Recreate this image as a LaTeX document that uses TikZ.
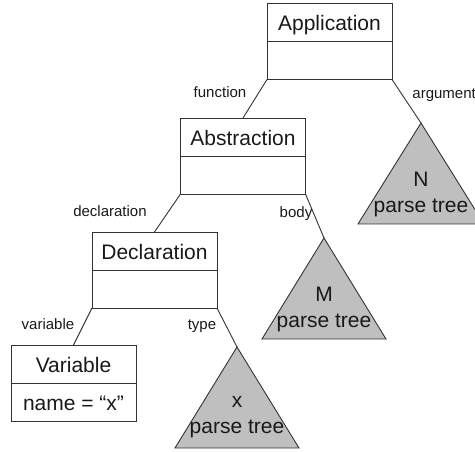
\documentclass[tikz,border=0pt]{standalone}
\usepackage{fontspec}
\setmainfont{Liberation Sans}
\usetikzlibrary{positioning}

\begin{document}
\begin{tikzpicture}[
                x=1pt, y=-1pt,
                line width=0.9pt,
                every node/.style={font=\fontsize{21}{26}\selectfont, text=black!90},
                classbox/.style={draw=black!80, minimum width=125pt, minimum height=38pt, inner sep=0pt, outer sep=0pt, text height=17pt, text depth=0pt},
                parsetree/.style={draw=black!80, fill=black!25},
                treetext/.style={align=center},
                role/.style={font=\fontsize{15}{18}\selectfont}
            ]
            \useasboundingbox (0,0) rectangle (475,452);

            % class boxes
            \node[classbox] (app) at (329.5,22.5) {Application};
            \node[classbox, below=0pt of app] (appb) {};
            \node[classbox] (abs) at (243,137) {Abstraction};
            \node[classbox, below=0pt of abs] (absb) {};
            \node[classbox] (decl) at (154.5,251) {Declaration};
            \node[classbox, below=0pt of decl] (declb) {};
            \node[classbox] (var) at (73.5,364) {Variable};
            \node[classbox, below=0pt of var] (varb) {name = “x”};

            % parse trees
            \coordinate (ntop) at (421,123);
            \draw[parsetree] (ntop) -- ++(-63,101) -- ++(126,0) -- cycle;
            \node[treetext] (ntext) at (421,194) {N\\parse tree};
            \coordinate (mtop) at (324,238);
            \draw[parsetree] (mtop) -- ++(-62,101) -- ++(124,0) -- cycle;
            \node[treetext] (mtext) at (324,309) {M\\parse tree};
            \coordinate (xtop) at (237,347);
            \draw[parsetree] (xtop) -- ++(-62,101) -- ++(124,0) -- cycle;
            \node[treetext] (xtext) at (237,417) {x\\parse tree};

            % connectors
            \draw[black!80] (appb.south west) -- (abs.north);
            \draw[black!80] (appb.south east) -- (ntop);
            \draw[black!80] (absb.south west) -- (decl.north);
            \draw[black!80] (absb.south east) -- (mtop);
            \draw[black!80] (declb.south west) -- (var.north);
            \draw[black!80] (declb.south east) -- (xtop);

            % roles
            \node[role] (lfunction) at (220,92) {function};
            \node[role, anchor=west, inner sep=0pt] (largument) at (412,95) {argument};
            \node[role] (ldeclaration) at (110,211) {declaration};
            \node[role] (lbody) at (296,214) {body};
            \node[role] (lvariable) at (48,324) {variable};
            \node[role] (ltype) at (202,326) {type};

        \end{tikzpicture}
\end{document}
